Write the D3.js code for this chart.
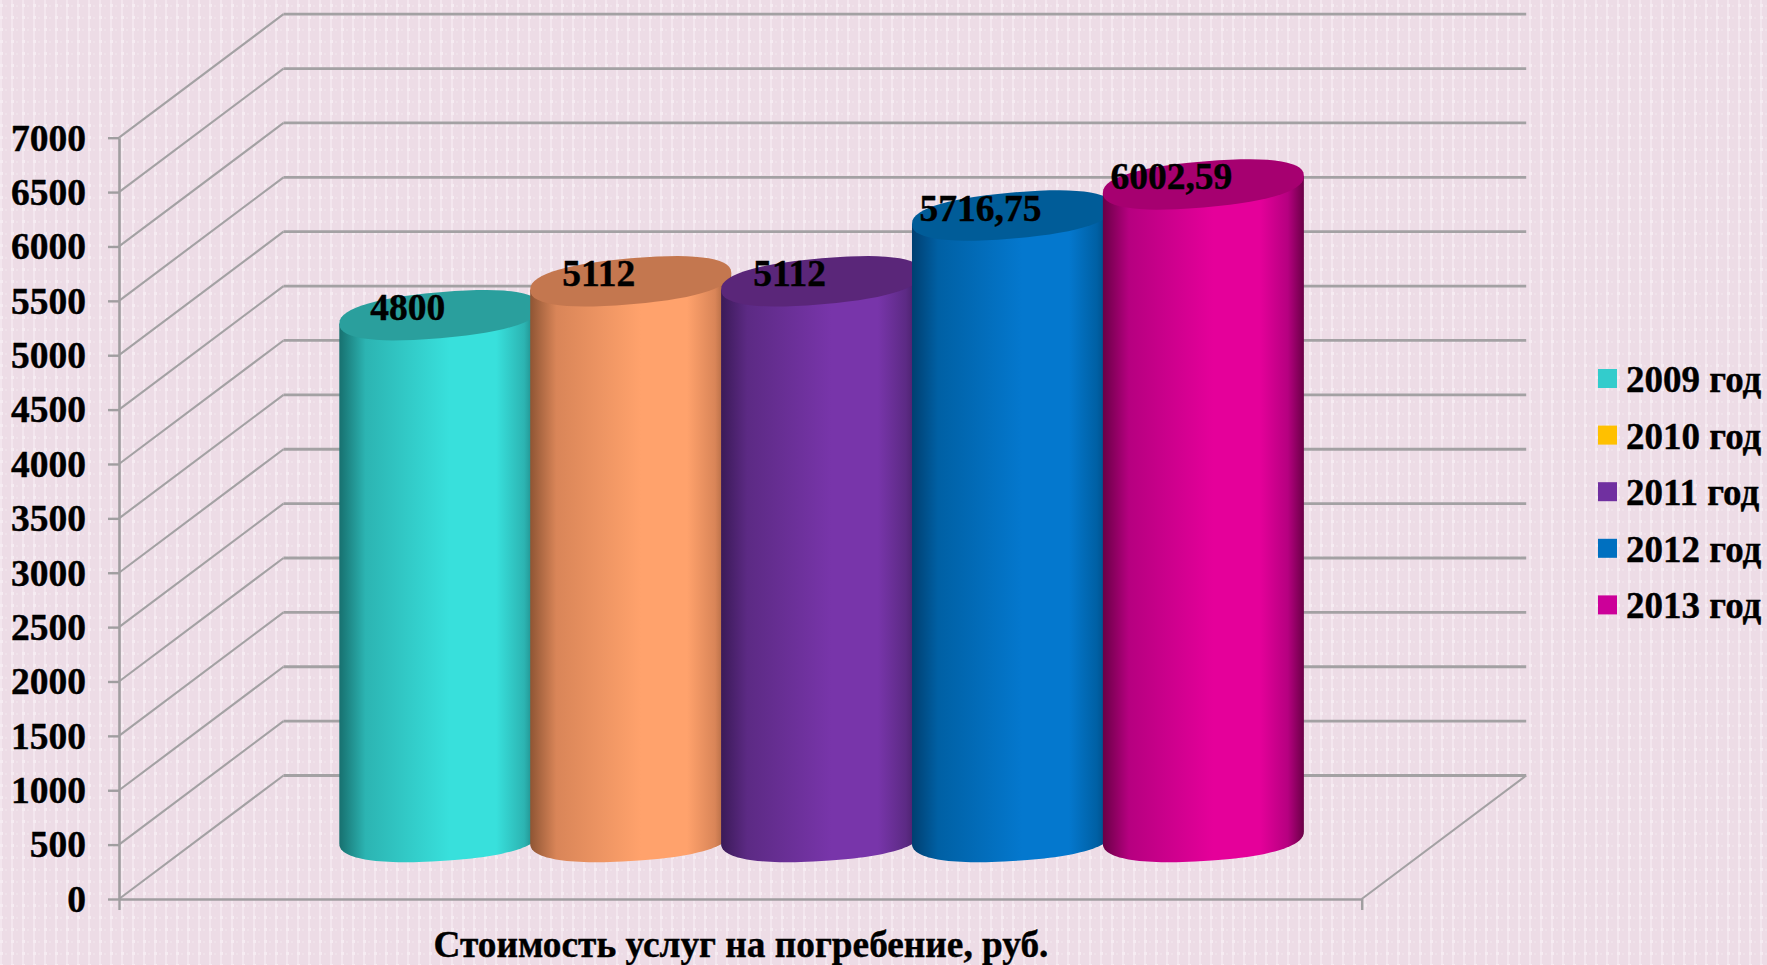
<!DOCTYPE html>
<html>
<head>
<meta charset="utf-8">
<script src="https://cdn.jsdelivr.net/npm/d3@7"></script>
<style>
    body { margin: 0; background: #eedfe7; }
    svg { display: block; }
    text { font-family: "Liberation Serif", "Times New Roman", serif; font-weight: bold; fill: #000; stroke: #000; stroke-width: 0.4px; }
</style>
</head>
<body>
<div id="chart"></div>
<script>
const years = ["2009 год", "2010 год", "2011 год", "2012 год", "2013 год"];
const values = [4800, 5112, 5112, 5716.75, 6002.59];
const valueLabels = ["4800", "5112", "5112", "5716,75", "6002,59"];
const yTicks = d3.range(0, 7001, 500);
const axisTitle = "Стоимость услуг на погребение, руб.";

// bar colours: edge, mid, bright, top face
const barEdge = ["#17706f", "#8f5534", "#3b1a58", "#003f70", "#6a0046"];
const barMid = ["#2cb4b2", "#d98558", "#5c2a84", "#0060a4", "#b60080"];
const barBright = ["#38e0dc", "#ffa26c", "#7835aa", "#0478ce", "#e5009a"];
const barTop = ["#2a9f9d", "#c4774f", "#5a2679", "#005c98", "#a60070"];
const legendColors = ["#33cccc", "#ffc000", "#7030a0", "#0070c0", "#cc0099"];

const width = 1767, height = 965;
const front = { left: 119, right: 1361.7, top: 137.7, bottom: 899 };
const depth = { x: 164.5, y: -123.5 };

const svg = d3.select("#chart").append("svg")
    .attr("width", width)
    .attr("height", height)
    .attr("viewBox", "0 0 " + width + " " + height);

const defs = svg.append("defs");

// woven background
const pattern = defs.append("pattern")
    .attr("id", "weave")
    .attr("width", 11)
    .attr("height", 12)
    .attr("patternUnits", "userSpaceOnUse");
pattern.append("rect").attr("width", 11).attr("height", 12).attr("fill", "#eddce6");
pattern.append("rect").attr("x", 0).attr("width", 2).attr("height", 12).attr("fill", "#f3e6ee");
pattern.append("rect").attr("x", 5).attr("y", 5).attr("width", 2).attr("height", 2).attr("fill", "#f0e2ea");
pattern.append("rect").attr("x", 0).attr("y", 4).attr("width", 3).attr("height", 3).attr("fill", "#f6ecf2");

svg.append("rect")
    .attr("width", width)
    .attr("height", height)
    .attr("fill", "url(#weave)");

years.forEach(function (d, i) {
    const grad = defs.append("linearGradient")
        .attr("id", "side" + i)
        .attr("x1", 0).attr("x2", 1).attr("y1", 0).attr("y2", 0);
    grad.append("stop").attr("offset", "0%").attr("stop-color", barEdge[i]);
    grad.append("stop").attr("offset", "13%").attr("stop-color", barMid[i]);
    grad.append("stop").attr("offset", "55%").attr("stop-color", barBright[i]);
    grad.append("stop").attr("offset", "78%").attr("stop-color", barBright[i]);
    grad.append("stop").attr("offset", "92%").attr("stop-color", barMid[i]);
    grad.append("stop").attr("offset", "100%").attr("stop-color", barEdge[i]);
});

const yScale = d3.scaleLinear()
    .domain([0, 7000])
    .range([front.bottom, front.top]);

// bars stand half way into the box
const xBand = d3.scaleBand()
    .domain(years)
    .range([front.left + depth.x / 2 - 1, front.right + depth.x / 2 - 1])
    .paddingInner(0)
    .paddingOuter(0.755);

const radius = xBand.bandwidth() * 1.053 / 2;
const ellipseHeight = 24.5;
const topSkew = 8.5, bottomSkew = 6;
const roundness = 0.85;

// walls
const grid = svg.append("g").attr("class", "grid");

grid.selectAll(".wall")
    .data(yTicks)
    .enter()
    .append("line")
    .attr("class", "wall")
    .attr("x1", front.left)
    .attr("y1", function (d) { return yScale(d); })
    .attr("x2", front.left + depth.x)
    .attr("y2", function (d) { return yScale(d) + depth.y; })
    .attr("stroke", "#a3a1a3")
    .attr("stroke-width", 2.1);

grid.selectAll(".back")
    .data(yTicks)
    .enter()
    .append("line")
    .attr("class", "back")
    .attr("x1", front.left + depth.x)
    .attr("y1", function (d) { return yScale(d) + depth.y; })
    .attr("x2", front.right + depth.x)
    .attr("y2", function (d) { return yScale(d) + depth.y; })
    .attr("stroke", "#a3a1a3")
    .attr("stroke-width", 2.8);

grid.append("line")
    .attr("x1", front.right)
    .attr("y1", yScale(0))
    .attr("x2", front.right + depth.x)
    .attr("y2", yScale(0) + depth.y)
    .attr("stroke", "#a3a1a3")
    .attr("stroke-width", 2.1);

// axes
const yAxis = d3.axisLeft()
    .scale(yScale)
    .tickValues(yTicks)
    .tickSize(11)
    .tickSizeOuter(0)
    .tickPadding(22)
    .tickFormat(d3.format("d"));

const yAxisGroup = svg.append("g")
    .attr("class", "axis yAxis")
    .attr("transform", "translate(" + front.left + ", 0)")
    .call(yAxis);

const xAxis = d3.axisBottom()
    .scale(d3.scaleLinear().domain([0, 1]).range([front.left, front.right]))
    .tickValues([0, 1])
    .tickSize(11)
    .tickSizeOuter(0)
    .tickFormat("");

const xAxisGroup = svg.append("g")
    .attr("class", "axis xAxis")
    .attr("transform", "translate(0, " + front.bottom + ")")
    .call(xAxis);

svg.selectAll(".axis .domain").attr("stroke", "#a09ea0").attr("stroke-width", 2.6);
svg.selectAll(".axis .tick line").attr("stroke", "#a09ea0").attr("stroke-width", 2.4);
yAxisGroup.selectAll(".tick text")
    .style("font-size", "37.5px")
    .attr("dy", "0.33em");

// cylinders, later ones cover the earlier ones
const rim = d3.line();

function fuller(v) { return Math.sign(v) * Math.pow(Math.abs(v), roundness); }

function ellipsePoints(cx, cy, skew, from, to) {
    const b = Math.sqrt(ellipseHeight * ellipseHeight - skew * skew);
    return d3.range(0, 61).map(function (k) {
        const t = from + (to - from) * k / 60;
        const c = fuller(Math.cos(t)), s = fuller(Math.sin(t));
        return [cx + radius * c, cy + b * s - skew * c];
    });
}

function centerX(i) { return xBand(years[i]) + xBand.bandwidth() / 2; }
function centerY(v) { return yScale(v) + depth.y / 2; }

const bars = svg.selectAll(".cylinder")
    .data(values)
    .enter()
    .append("g")
    .attr("class", "cylinder");

bars.append("path")
    .attr("fill", function (d, i) { return "url(#side" + i + ")"; })
    .attr("d", function (d, i) {
        const bottomArc = ellipsePoints(centerX(i), centerY(0), bottomSkew, Math.PI, 0);
        const topEnds = ellipsePoints(centerX(i), centerY(d), topSkew, 0, Math.PI);
        return rim(bottomArc.concat([topEnds[0], topEnds[60]])) + "Z";
    });

bars.append("path")
    .attr("fill", function (d, i) { return barTop[i]; })
    .attr("d", function (d, i) {
        return rim(ellipsePoints(centerX(i), centerY(d), topSkew, 0, 2 * Math.PI)) + "Z";
    });

svg.selectAll(".valueLabel")
    .data(values)
    .enter()
    .append("text")
    .attr("class", "valueLabel")
    .attr("x", function (d, i) { return centerX(i) - 32; })
    .attr("y", function (d) { return centerY(d) + 5; })
    .attr("text-anchor", "middle")
    .style("font-size", "37.5px")
    .text(function (d, i) { return valueLabels[i]; });

// legend
const legend = svg.selectAll(".legendItem")
    .data(years)
    .enter()
    .append("g")
    .attr("class", "legendItem")
    .attr("transform", function (d, i) { return "translate(1598, " + (369 + i * 56.6) + ")"; });

legend.append("rect")
    .attr("width", 19)
    .attr("height", 19)
    .attr("fill", function (d, i) { return legendColors[i]; });

legend.append("text")
    .attr("x", 28)
    .attr("y", 23)
    .style("font-size", "37px")
    .text(function (d) { return d; });

svg.append("text")
    .attr("x", 741)
    .attr("y", 957)
    .attr("text-anchor", "middle")
    .style("font-size", "37.3px")
    .text(axisTitle);
</script>
</body>
</html>
